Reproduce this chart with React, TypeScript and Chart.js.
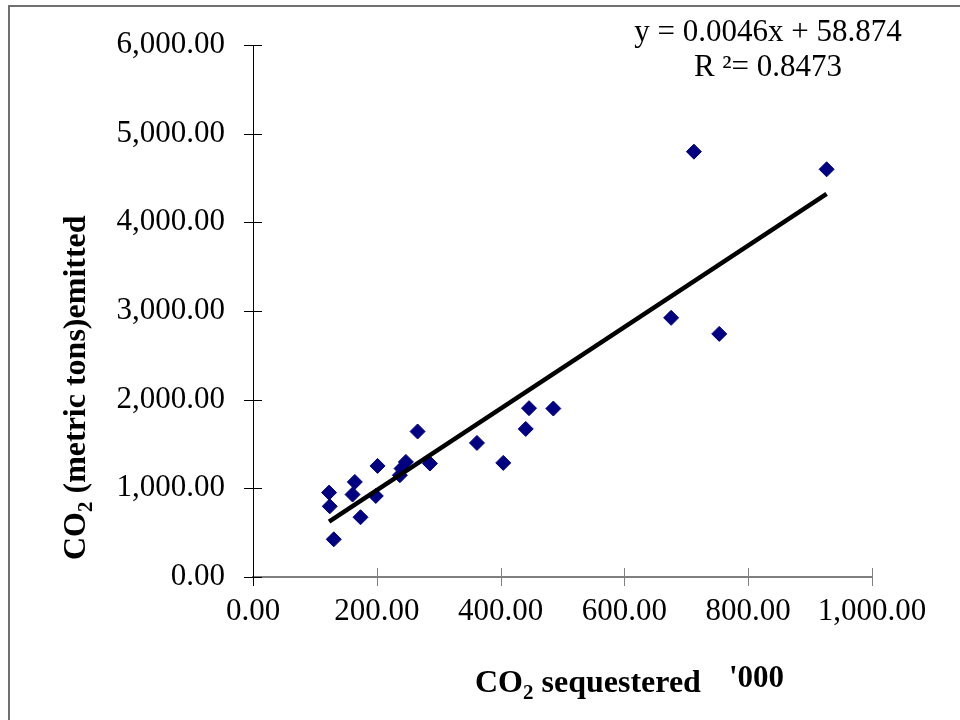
import React, { useEffect, useRef } from 'react';
import { Chart, registerables } from 'chart.js';

Chart.register(...registerables);

// ---- Data (CO2 sequestered in '000, CO2 emitted in metric tons) ----
const SEQUESTERED = [
  122.9, 124.0, 130.5, 160.8, 164.5, 173.7, 198.4, 201.2, 237.3, 240.0, 247.0,
  265.9, 285.8, 361.8, 404.3, 440.6, 445.9, 485.2, 675.5, 712.3, 753.2, 926.7,
];
const EMITTED = [
  952, 797, 425, 930, 1072, 674, 914, 1253, 1148, 1223, 1298,
  1641, 1280, 1512, 1287, 1670, 1904, 1900, 2923, 4797, 2742, 4598,
];

// axis ranges / tick steps
const X_MIN = 0;
const X_MAX = 1000;
const X_STEP = 200;
const Y_MIN = 0;
const Y_MAX = 6000;
const Y_STEP = 1000;

// trendline (as printed on the chart; x expressed in units, axis in '000)
const EQ_SLOPE = 0.0046;
const EQ_INTERCEPT = 58.874;
const R_SQUARED = 0.8473;
const X_UNIT = 1000;

const X_TITLE_MAIN = 'CO';
const X_TITLE_SUB = '2';
const X_TITLE_REST = ' sequestered';
const X_TITLE_UNIT = "'000";
const Y_TITLE_MAIN = 'CO';
const Y_TITLE_SUB = '2';
const Y_TITLE_REST = ' (metric tons)emitted';

const SERIF = '"Liberation Serif", "Times New Roman", serif';
const fmt = (v: number) =>
  Number(v).toLocaleString('en-US', { minimumFractionDigits: 2, maximumFractionDigits: 2 });

type Seg = { text: string; font: string; dy?: number };
function drawSegs(ctx: CanvasRenderingContext2D, segs: Seg[], x: number, y: number) {
  let cx = x;
  for (const s of segs) {
    ctx.font = s.font;
    ctx.fillText(s.text, cx, y + (s.dy || 0));
    cx += ctx.measureText(s.text).width;
  }
}

const decorPlugin = {
  id: 'decor',
  beforeDatasetsDraw(chart: any) {
    const ctx: CanvasRenderingContext2D = chart.ctx;
    const xs = chart.scales.x;
    const ys = chart.scales.y;
    const area = chart.chartArea;
    const TL = 9;
    ctx.save();
    ctx.lineWidth = 1;
    // x ticks (crossing)
    xs.ticks.forEach((t: any) => {
      const px = Math.round(xs.getPixelForValue(t.value)) + 0.5;
      ctx.strokeStyle = t.value === X_MIN ? '#000000' : '#808080';
      ctx.beginPath();
      ctx.moveTo(px, area.bottom - TL);
      ctx.lineTo(px, area.bottom + TL);
      ctx.stroke();
    });
    // y ticks (crossing)
    ctx.strokeStyle = '#000000';
    ys.ticks.forEach((t: any) => {
      const py = Math.round(ys.getPixelForValue(t.value)) + 0.5;
      ctx.beginPath();
      ctx.moveTo(area.left - TL, py);
      ctx.lineTo(area.left + TL, py);
      ctx.stroke();
    });
    ctx.restore();
  },
  afterDraw(chart: any) {
    const ctx: CanvasRenderingContext2D = chart.ctx;
    ctx.save();
    // frame lines (left + top)
    ctx.strokeStyle = '#707070';
    ctx.lineWidth = 2;
    ctx.beginPath();
    ctx.moveTo(9, 720);
    ctx.lineTo(9, 6);
    ctx.lineTo(960, 6);
    ctx.stroke();

    ctx.fillStyle = '#000000';
    ctx.textBaseline = 'alphabetic';

    // equation
    ctx.textAlign = 'center';
    ctx.font = `31px ${SERIF}`;
    ctx.fillText(`y = ${EQ_SLOPE}x + ${EQ_INTERCEPT}`, 768, 41);
    ctx.fillText(`R \u00b2= ${R_SQUARED}`, 768, 76);

    // x title
    ctx.textAlign = 'left';
    const bold = `bold 32px ${SERIF}`;
    const sub = `bold 21px ${SERIF}`;
    drawSegs(ctx, [
      { text: X_TITLE_MAIN, font: bold },
      { text: X_TITLE_SUB, font: sub, dy: 7 },
      { text: X_TITLE_REST, font: bold },
    ], 475, 692);
    ctx.font = `bold 31px ${SERIF}`;
    ctx.fillText(X_TITLE_UNIT, 729, 687);

    // y title (rotated)
    ctx.translate(85, 560);
    ctx.rotate(-Math.PI / 2);
    drawSegs(ctx, [
      { text: Y_TITLE_MAIN, font: bold },
      { text: Y_TITLE_SUB, font: sub, dy: 7 },
      { text: Y_TITLE_REST, font: bold },
    ], 0, 0);
    ctx.restore();
  },
};

export default function App() {
  const ref = useRef<HTMLCanvasElement | null>(null);

  useEffect(() => {
    document.body.style.margin = '0';
    const canvas = ref.current;
    if (!canvas) return;

    const points = SEQUESTERED.map((x, i) => ({ x, y: EMITTED[i] }));
    const xLo = Math.min(...SEQUESTERED);
    const xHi = Math.max(...SEQUESTERED);
    const trend = [xLo, xHi].map((x) => ({ x, y: EQ_SLOPE * x * X_UNIT + EQ_INTERCEPT }));

    const chart = new Chart(canvas, {
      type: 'scatter',
      data: {
        datasets: [
          {
            label: 'Linear trend',
            data: trend,
            showLine: true,
            borderColor: '#000000',
            borderWidth: 4.5,
            pointRadius: 0,
            pointHoverRadius: 0,
            fill: false,
          },
          {
            label: 'CO2',
            data: points,
            pointStyle: 'rectRot',
            pointRadius: 7.5,
            pointHoverRadius: 7.5,
            backgroundColor: '#000080',
            borderColor: '#000080',
            borderWidth: 1,
          },
        ],
      },
      options: {
        animation: false,
        responsive: false,
        devicePixelRatio: 1,
        layout: { padding: { left: 0, top: 45, right: 88, bottom: 0 } },
        plugins: {
          legend: { display: false },
          tooltip: { enabled: false },
          title: { display: false },
        },
        scales: {
          x: {
            type: 'linear',
            min: X_MIN,
            max: X_MAX,
            grid: { display: false },
            border: { display: true, color: '#808080', width: 2 },
            ticks: {
              stepSize: X_STEP,
              color: '#000000',
              font: { family: SERIF, size: 31 },
              padding: 8,
              maxRotation: 0,
              callback: (v: any) => fmt(v),
            },
            afterFit: (s: any) => { s.height = 720 - 577; },
          },
          y: {
            type: 'linear',
            min: Y_MIN,
            max: Y_MAX,
            grid: { display: false },
            border: { display: true, color: '#000000', width: 1 },
            ticks: {
              stepSize: Y_STEP,
              color: '#000000',
              font: { family: SERIF, size: 31 },
              padding: 20,
              callback: (v: any) => fmt(v),
            },
            afterFit: (s: any) => { s.width = 253; },
          },
        },
      },
      plugins: [decorPlugin],
    });

    return () => chart.destroy();
  }, []);

  return (
    <div style={{ width: 960, height: 720 }}>
      <canvas ref={ref} width={960} height={720} style={{ display: 'block' }} />
    </div>
  );
}
